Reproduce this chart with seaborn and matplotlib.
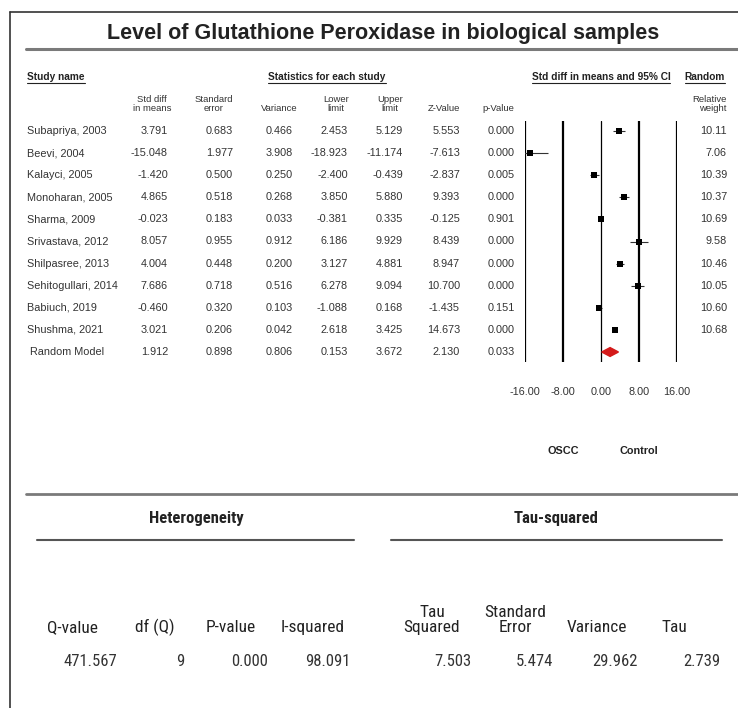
import numpy as np
import pandas as pd
import seaborn as sns
import matplotlib.pyplot as plt

studies = ["Subapriya, 2003", "Beevi, 2004", "Kalayci, 2005", "Monoharan, 2005",
           "Sharma, 2009", "Srivastava, 2012", "Shilpasree, 2013",
           "Sehitogullari, 2014", "Babiuch, 2019", "Shushma, 2021"]
std_diff = [3.791, -15.048, -1.420, 4.865, -0.023, 8.057, 4.004, 7.686, -0.460, 3.021]
std_err = [0.683, 1.977, 0.500, 0.518, 0.183, 0.955, 0.448, 0.718, 0.320, 0.206]
variance = [0.466, 3.908, 0.250, 0.268, 0.033, 0.912, 0.200, 0.516, 0.103, 0.042]
lower = [2.453, -18.923, -2.400, 3.850, -0.381, 6.186, 3.127, 6.278, -1.088, 2.618]
upper = [5.129, -11.174, -0.439, 5.880, 0.335, 9.929, 4.881, 9.094, 0.168, 3.425]
z_value = [5.553, -7.613, -2.837, 9.393, -0.125, 8.439, 8.947, 10.700, -1.435, 14.673]
p_value = [0.000, 0.000, 0.005, 0.000, 0.901, 0.000, 0.000, 0.000, 0.151, 0.000]
rel_weight = [10.11, 7.06, 10.39, 10.37, 10.69, 9.58, 10.46, 10.05, 10.60, 10.68]

# random model: std diff, se, variance, lower, upper, z, p
random_model = [1.912, 0.898, 0.806, 0.153, 3.672, 2.130, 0.033]

x_ticks = [-16, -8, 0, 8, 16]

het_labels = ["Q-value", "df (Q)", "P-value", "I-squared"]
het_values = ["471.567", "9", "0.000", "98.091"]
tau_labels = ["Tau\nSquared", "Standard\nError", "Variance", "Tau"]
tau_values = ["7.503", "5.474", "29.962", "2.739"]

sns.set_theme(style="white")
plt.rcParams["font.family"] = ["Liberation Sans", "DejaVu Sans"]
narrow = ["Roboto Condensed", "PT Sans Narrow", "Liberation Sans", "DejaVu Sans"]

W, H = 738, 708
fig = plt.figure(figsize=(W / 100, H / 100), dpi=100)
fig.patch.set_facecolor("white")

# canvas in pixel coordinates for text and rules
ax0 = fig.add_axes([0, 0, 1, 1])
ax0.set_xlim(0, W)
ax0.set_ylim(H, 0)
ax0.axis("off")

dark = "#222222"
grey_txt = "#333333"

# frame
ax0.plot([10, W], [12, 12], color="#333333", lw=1.2)
ax0.plot([10, 10], [12, H], color="#333333", lw=1.2)

ax0.text(383, 34, "Level of Glutathione Peroxidase in biological samples",
         ha="center", va="center", fontsize=15.5, fontweight="bold", color=dark)
ax0.plot([26, W], [49, 49], color="#7a7a7a", lw=2.2)

fig.canvas.draw()
renderer = fig.canvas.get_renderer()


def underlined(x, y, s, ha):
    t = ax0.text(x, y, s, ha=ha, va="center", fontsize=7.3, fontweight="bold", color=dark)
    bb = t.get_window_extent(renderer).transformed(ax0.transData.inverted())
    ax0.plot([bb.x0, bb.x1], [y + 5.5, y + 5.5], color=dark, lw=0.8)


underlined(27, 77, "Study name", "left")
underlined(327, 77, "Statistics for each study", "center")
underlined(601, 77, "Std diff in means and 95% CI", "center")
underlined(705, 77, "Random", "center")

col_heads = ["Std diff\nin means", "Standard\nerror", "Variance", "Lower\nlimit",
             "Upper\nlimit", "Z-Value", "p-Value"]
head_x = [152, 214, 279, 336, 390, 444, 498]
for hx, lab in zip(head_x, col_heads):
    ax0.text(hx, 111, lab, ha="center", va="baseline", fontsize=6.8,
             color=grey_txt, linespacing=1.05)
ax0.text(727, 111, "Relative\nweight", ha="right", va="baseline", fontsize=6.8,
         color=grey_txt, linespacing=1.05, multialignment="right")

# table rows
row0, step = 131, 22.1
right_x = [168, 233, 293, 348, 403, 460, 515]
cols = [std_diff, std_err, variance, lower, upper, z_value, p_value]
fs = 7.8
for i, name in enumerate(studies):
    y = row0 + step * i
    ax0.text(27, y, name, ha="left", va="center", fontsize=fs, color=grey_txt)
    for rx, col in zip(right_x, cols):
        ax0.text(rx, y, f"{col[i]:.3f}", ha="right", va="center", fontsize=fs, color=grey_txt)
    ax0.text(727, y, f"{rel_weight[i]:.2f}", ha="right", va="center", fontsize=fs, color=grey_txt)

y = row0 + step * len(studies)
ax0.text(30, y, "Random Model", ha="left", va="center", fontsize=fs, color=grey_txt)
for rx, v in zip(right_x, random_model):
    ax0.text(rx, y, f"{v:.3f}", ha="right", va="center", fontsize=fs, color=grey_txt)

# forest plot axes
fx0, fx1, fy0, fy1 = 525, 677, 121, 362
ax = fig.add_axes([fx0 / W, 1 - fy1 / H, (fx1 - fx0) / W, (fy1 - fy0) / H])
ax.set_xlim(-16, 16)
ax.set_ylim((fy1 - row0) / step, (fy0 - row0) / step)
ax.axis("off")
ax.patch.set_alpha(0)

for t in x_ticks:
    ax.axvline(t, color="black", lw=0.9 if t == 0 else 1.6, zorder=1)

df = pd.DataFrame({"study": studies, "effect": std_diff, "lower": lower,
                   "upper": upper, "row": np.arange(len(studies))})
ax.hlines(df["row"], df["lower"], df["upper"], color="#333333", lw=0.8, zorder=2)
sns.scatterplot(data=df, x="effect", y="row", marker="s", s=24, color="black",
                edgecolor="black", linewidth=0, ax=ax, zorder=3, legend=False)

r = len(studies)
est, lo, hi = random_model[0], random_model[3], random_model[4]
ax.fill([lo, est, hi, est], [r, r - 0.2, r, r + 0.2], color="#d41a1a", zorder=3)

for t in x_ticks:
    ax0.text(fx0 + (t + 16) / 32 * (fx1 - fx0), 392, f"{t:.2f}", ha="center",
             va="center", fontsize=fs, color=grey_txt)
ax0.text(563, 451, "OSCC", ha="center", va="center", fontsize=fs,
         fontweight="bold", color=dark)
ax0.text(639, 451, "Control", ha="center", va="center", fontsize=fs,
         fontweight="bold", color=dark)

# bottom summary tables
ax0.plot([26, W], [494, 494], color="#7a7a7a", lw=2)
ax0.text(196, 519, "Heterogeneity", ha="center", va="center", fontsize=12,
         fontweight="bold", color=dark, family=narrow)
ax0.text(556, 519, "Tau-squared", ha="center", va="center", fontsize=12,
         fontweight="bold", color=dark, family=narrow)
ax0.plot([37, 354], [540, 540], color="#555555", lw=1.5)
ax0.plot([391, 722], [540, 540], color="#555555", lw=1.5)

het_x = [73, 155, 231, 313]
tau_x = [432, 515, 597, 674]
for hx, lab in zip(het_x + tau_x, het_labels + tau_labels):
    ax0.text(hx, 632, lab, ha="center", va="baseline", fontsize=12.5,
             color=dark, family=narrow, linespacing=1.0)

val_x = [117, 184, 268, 351, 471, 553, 638, 720]
for vx, v in zip(val_x, het_values + tau_values):
    ax0.text(vx, 662, v, ha="right", va="center", fontsize=12,
             color=grey_txt, family=narrow)

fig.savefig("out.png", dpi=100)
